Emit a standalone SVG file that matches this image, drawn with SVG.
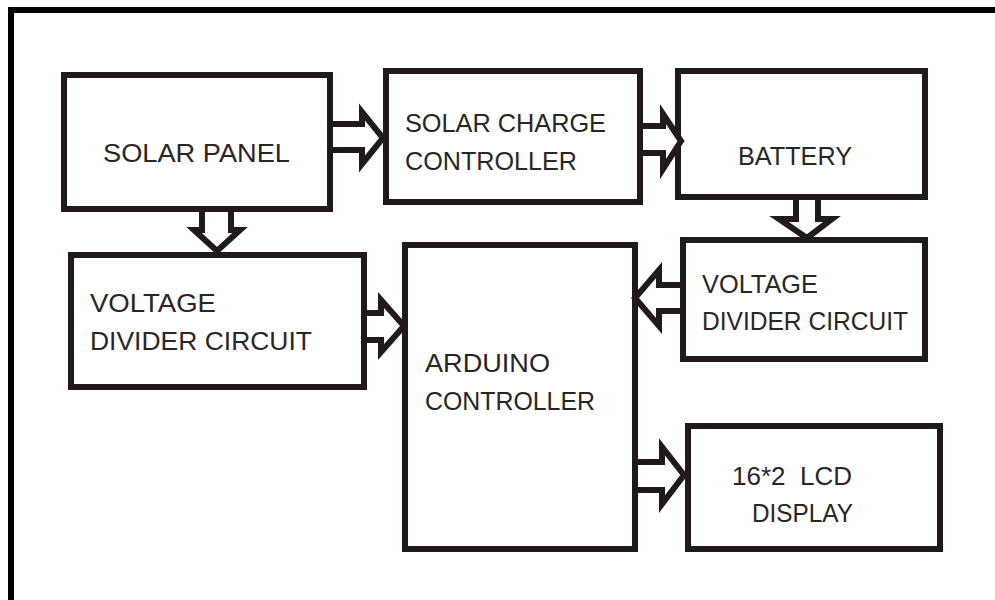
<svg xmlns="http://www.w3.org/2000/svg" width="995" height="600" viewBox="0 0 995 600">
<style>
.box{fill:#ffffff;stroke:#221a1a;stroke-width:6}
.arr{fill:#ffffff;stroke:#221a1a;stroke-width:6;stroke-linejoin:miter}
.t{font-family:"Liberation Sans",Arial,sans-serif;font-size:25px;fill:#2a2626}
</style>
<rect x="0" y="0" width="995" height="600" fill="#ffffff"/>
<g id="frame">
<line x1="8" y1="10" x2="995" y2="10" stroke="#000" stroke-width="6"/>
<line x1="11" y1="7" x2="11" y2="600" stroke="#000" stroke-width="6"/>
</g>
<g id="solar-panel">
<rect class="box" x="64" y="75" width="266" height="134"/>
<text class="t" x="103" y="162" textLength="187" lengthAdjust="spacingAndGlyphs">SOLAR PANEL</text>
</g>
<g id="charge-controller">
<rect class="box" x="386" y="71" width="254" height="131"/>
<text class="t" x="405" y="132" textLength="201" lengthAdjust="spacingAndGlyphs">SOLAR CHARGE</text>
<text class="t" x="405" y="170" textLength="172" lengthAdjust="spacingAndGlyphs">CONTROLLER</text>
</g>
<g id="battery">
<rect class="box" x="678" y="71" width="247" height="126"/>
<text class="t" x="738" y="165" textLength="114" lengthAdjust="spacingAndGlyphs">BATTERY</text>
</g>
<g id="voltage-divider-left">
<rect class="box" x="71" y="255" width="293" height="132"/>
<text class="t" x="90" y="312" textLength="126" lengthAdjust="spacingAndGlyphs">VOLTAGE</text>
<text class="t" x="90" y="350" textLength="222" lengthAdjust="spacingAndGlyphs">DIVIDER CIRCUIT</text>
</g>
<g id="arduino">
<rect class="box" x="405" y="245" width="230" height="304"/>
<text class="t" x="425" y="372" textLength="125" lengthAdjust="spacingAndGlyphs">ARDUINO</text>
<text class="t" x="425" y="410" textLength="170" lengthAdjust="spacingAndGlyphs">CONTROLLER</text>
</g>
<g id="voltage-divider-right">
<rect class="box" x="683" y="240" width="242" height="119"/>
<text class="t" x="702" y="293" textLength="116" lengthAdjust="spacingAndGlyphs">VOLTAGE</text>
<text class="t" x="702" y="330" textLength="206" lengthAdjust="spacingAndGlyphs">DIVIDER CIRCUIT</text>
</g>
<g id="lcd">
<rect class="box" x="688" y="426" width="252" height="123"/>
<text class="t" x="732" y="485" xml:space="preserve" textLength="120" lengthAdjust="spacingAndGlyphs">16*2  LCD</text>
<text class="t" x="752" y="522" textLength="101" lengthAdjust="spacingAndGlyphs">DISPLAY</text>
</g>
<g id="connectors">
<polyline class="arr" points="333,124 362,124 362,112 383,138 362,164 362,150 333,150"/>
<polyline class="arr" points="643,126 663,126 663,114 681,141 663,169 663,153 643,153"/>
<polyline class="arr" points="202,212 202,230 194,230 217,251 240,230 231,230 231,212"/>
<polyline class="arr" points="796,200 796,219 779,219 807,238 832,219 818,219 818,200"/>
<polyline class="arr" points="367,313 381,313 381,300 404,326 381,352 381,340 367,340"/>
<polyline class="arr" points="680,285 659,285 659,270 635,298 659,326 659,311 680,311"/>
<polyline class="arr" points="638,462 662,462 662,447 684,475 662,504 662,490 638,490"/>
</g>
</svg>
